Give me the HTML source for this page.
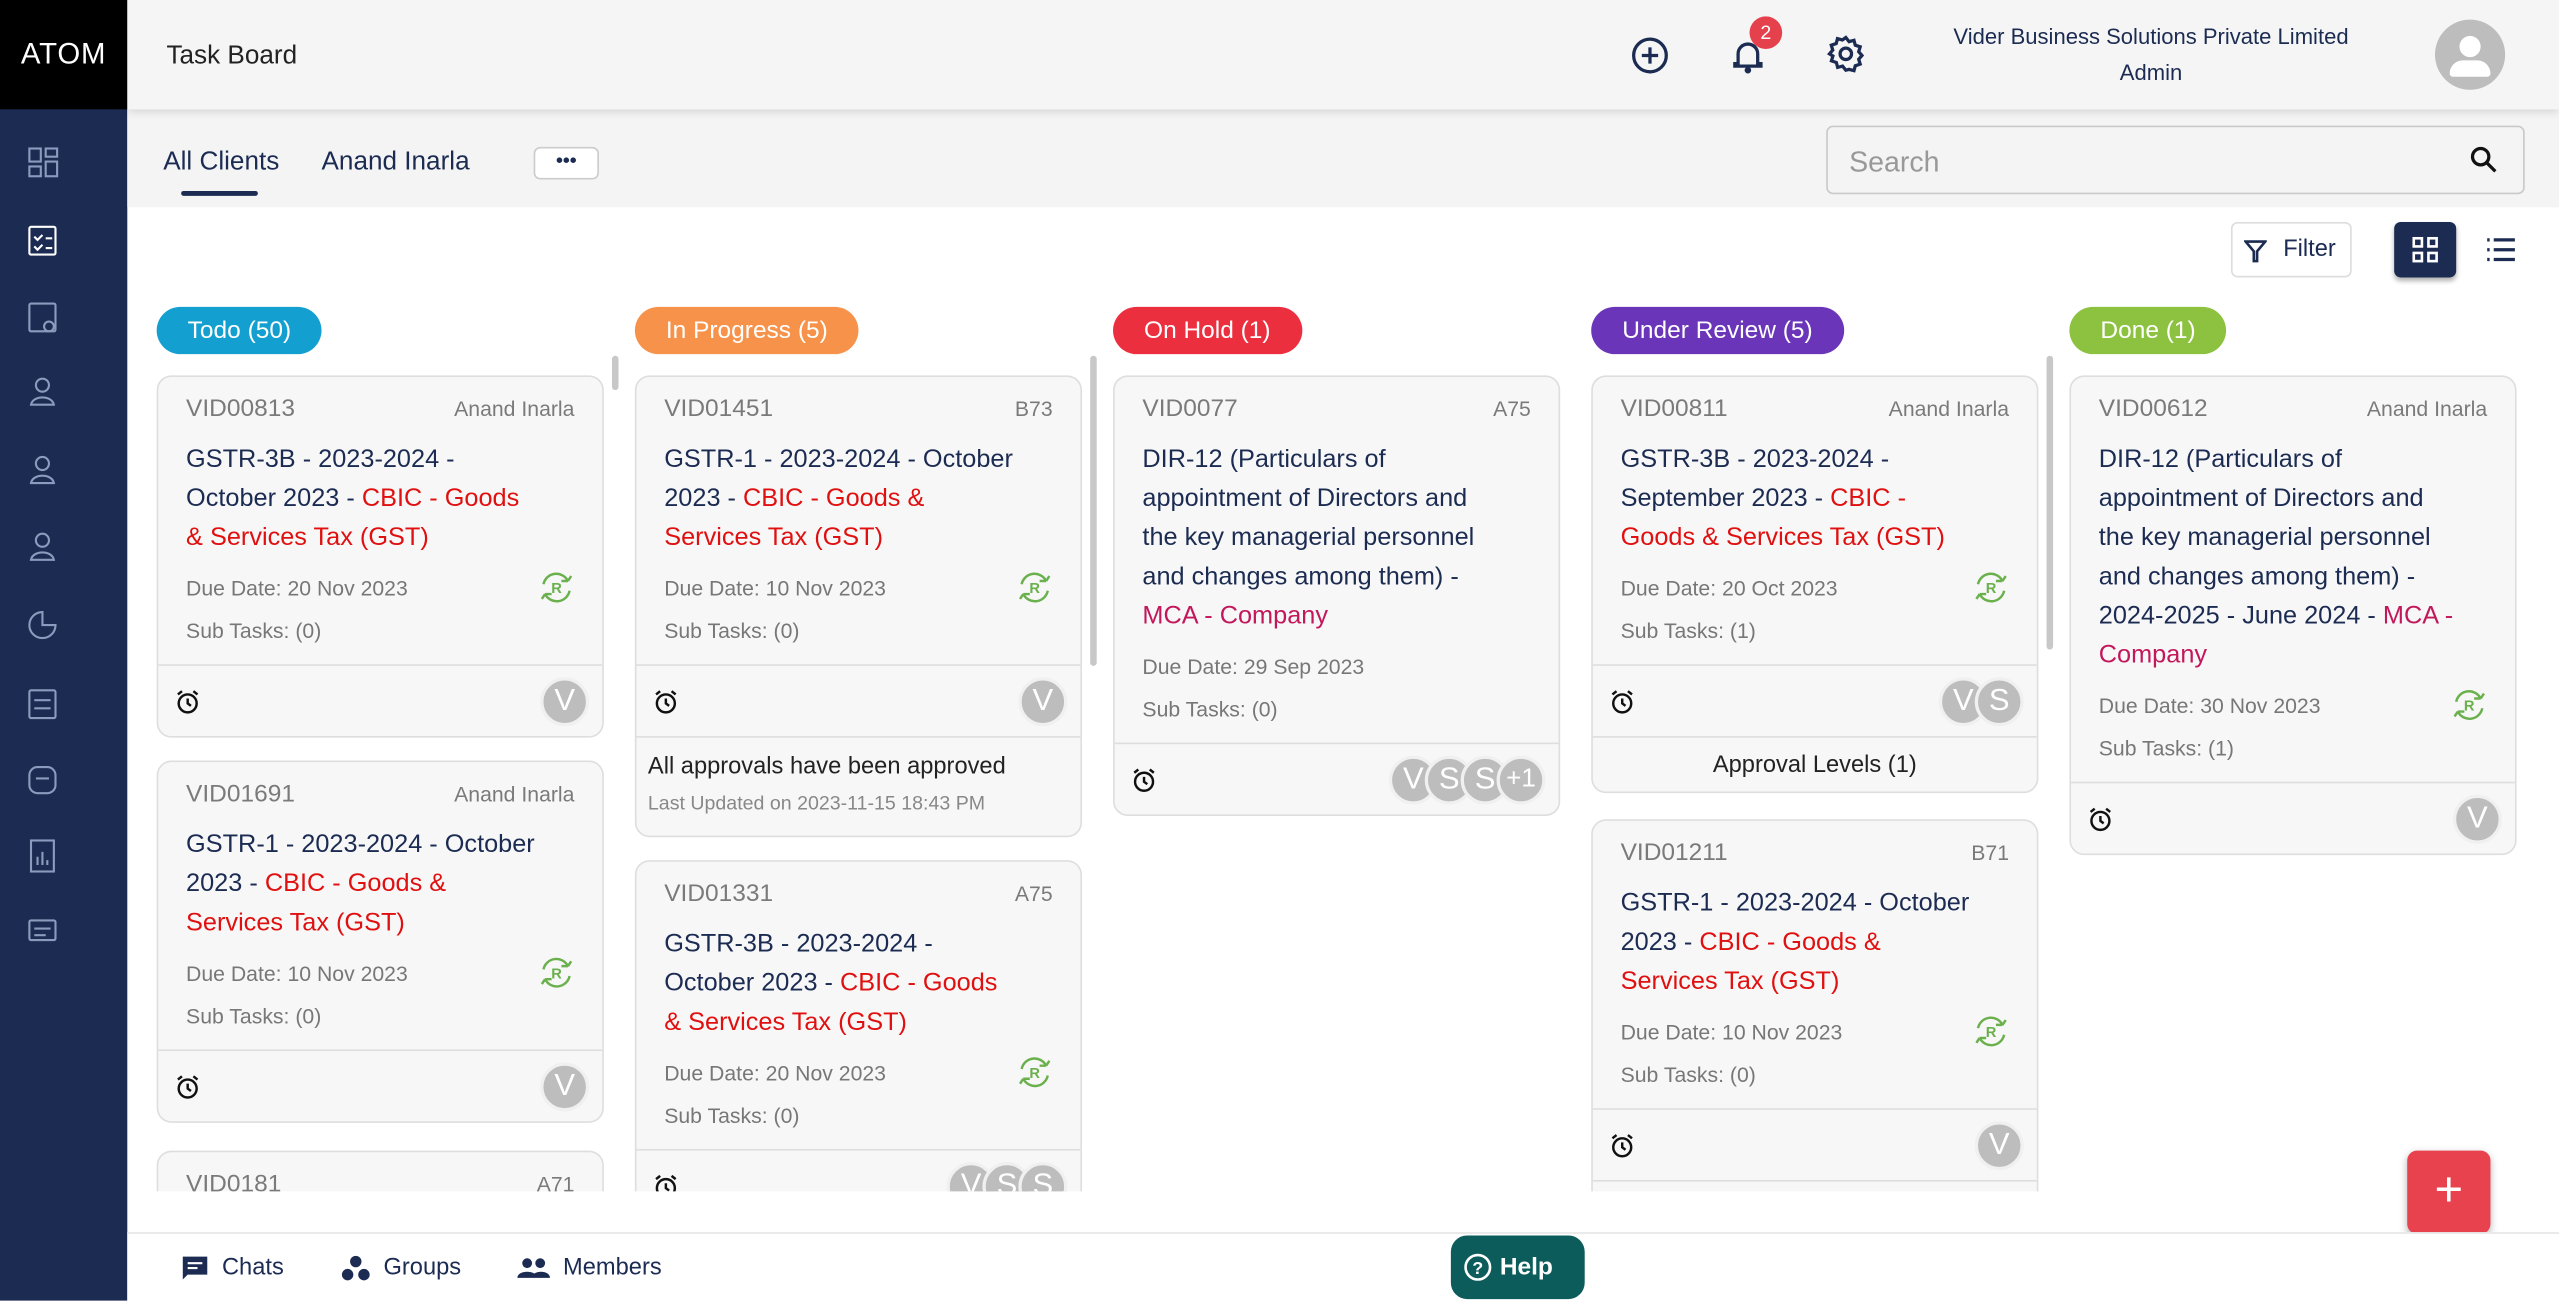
<!DOCTYPE html>
<html><head><meta charset="utf-8">
<style>
*{box-sizing:border-box;margin:0;padding:0}
html,body{width:2559px;height:1300px;overflow:hidden;background:#fff}
body{font-family:"Liberation Sans",sans-serif}
#root{position:absolute;left:0;top:0;width:1568px;height:797px;transform:scale(1.63202);transform-origin:0 0;background:#fff;overflow:hidden}
.abs{position:absolute}
.side{left:0;top:0;width:78px;height:797px;background:#1b2b52}
.logo{left:0;top:0;width:78px;height:67px;background:#000;color:#fff;font-size:18px;line-height:67px;text-align:center;letter-spacing:0.5px}
.hdr{left:78px;top:0;width:1490px;height:67px;background:#f5f5f5;box-shadow:0 2px 5px rgba(0,0,0,.12);z-index:2}
.tabs{left:78px;top:67px;width:1490px;height:60px;background:#f4f4f4}
.pill{height:29px;border-radius:15px;color:#fff;font-size:15px;line-height:29px;padding:0 19px;top:188px;white-space:nowrap}
.card{background:#f7f7f7;border:1px solid #dedede;border-radius:9px;width:274px;overflow:hidden}
.body{padding:11px 17px 7px 17px;position:relative}
.idrow{height:18px;line-height:18px;font-size:15px;color:#7a7a7a;display:flex;justify-content:space-between;margin-bottom:10px}
.idrow span:last-child{font-size:13px}
.title{font-size:15.5px;line-height:24px;color:#1b2b52;white-space:nowrap;margin-bottom:6px}
.red{color:#e01010}.mag{color:#c2185b}
.meta{font-size:13px;line-height:26px;color:#777}
.foot{height:44px;border-top:1px solid #dedede;position:relative}
.alarm{position:absolute;left:10px;top:14px}
.avs{position:absolute;right:8px;top:7px;display:flex}
.av{width:30px;height:30px;border-radius:50%;background:#bdbdbd;border:2px solid #f0f0f0;color:#fff;font-size:19px;line-height:26px;text-align:center;margin-left:-8px}
.rec{position:absolute;right:16px}
.extra{border-top:1px solid #dedede;text-align:center}
.sb{background:#c8c8c8;width:4px;border-radius:2px}
.bot{left:78px;top:755px;width:1490px;height:42px;background:#fff;border-top:1px solid #e6e6e6}
.bl{font-size:14.5px;color:#1b2b52;top:13px;display:flex;align-items:center;gap:8px}
</style></head><body>
<div id="root">
<svg width="0" height="0" style="position:absolute"><defs>
<symbol id="recur" viewBox="0 0 24 24"><path d="M4 10a8 8 0 0 1 15-2" fill="none" stroke="#6ab04c" stroke-width="1.5"/><path d="M19 8l2-3M19 8l-4 0" stroke="#6ab04c" stroke-width="1.5" fill="none"/><path d="M20 14a8 8 0 0 1-15 2" fill="none" stroke="#6ab04c" stroke-width="1.5"/><path d="M5 16l-2 3M5 16l4 0" stroke="#6ab04c" stroke-width="1.5" fill="none"/><text x="12" y="15.5" font-size="9" font-weight="bold" fill="#6ab04c" text-anchor="middle" font-family="Liberation Sans">R</text></symbol>
<symbol id="alarm" viewBox="0 0 16 16"><circle cx="8" cy="9" r="5.5" fill="none" stroke="#111" stroke-width="1.5"/><path d="M8 6v3l2 1.5M2 3.5l2.5-2M14 3.5l-2.5-2" stroke="#111" stroke-width="1.5" fill="none"/></symbol>
</defs></svg>

<div class="abs side"></div>
<div class="abs logo">ATOM</div>
<svg class="abs" style="left:17px;top:90px" width="20" height="500" fill="none" stroke="#8a9bbd" stroke-width="1.3">
<rect x="1" y="1" width="7" height="8"/><rect x="11" y="1" width="7" height="5"/><rect x="1" y="12" width="7" height="6"/><rect x="11" y="9" width="7" height="9"/>
<rect x="1" y="49" width="16" height="17" rx="1" stroke="#fff"/><path d="M4 55l2 2 3-3M4 61l2 2 3-3M11 56h4M11 62h4" stroke="#fff"/>
<rect x="1" y="96" width="16" height="17" rx="1"/><circle cx="13" cy="110" r="3"/>
<circle cx="9" cy="146" r="4"/><path d="M2 158c1-6 13-6 14 0z"/>
<circle cx="9" cy="194" r="4"/><path d="M2 206c1-6 13-6 14 0z"/>
<circle cx="9" cy="241" r="4"/><path d="M2 253c1-6 13-6 14 0z"/>
<path d="M9 285v8h8a8 8 0 1 1-8-8z"/>
<rect x="1" y="333" width="16" height="17" rx="1"/><path d="M4 339h10M4 344h10"/>
<rect x="1" y="380" width="16" height="16" rx="5"/><path d="M5 387h8"/>
<rect x="2" y="425" width="14" height="19"/><path d="M6 440v-5M9 440v-8M12 440v-3"/>
<rect x="1" y="474" width="16" height="12" rx="1"/><path d="M4 479h10M4 483h7"/>
</svg>

<div class="abs hdr">
<div class="abs" style="left:24px;top:26px;font-size:16px;color:#222">Task Board</div>
<svg class="abs" style="left:921px;top:22px" width="24" height="24"><circle cx="12" cy="12" r="10" fill="none" stroke="#1b2b52" stroke-width="2"/><path d="M12 7v10M7 12h10" stroke="#1b2b52" stroke-width="2"/></svg>
<svg class="abs" style="left:981px;top:22px" width="24" height="24"><path d="M6 17V11a6 6 0 0 1 12 0v6h2v1.5H4V17z" fill="none" stroke="#1b2b52" stroke-width="2"/><circle cx="12" cy="21" r="2" fill="#1b2b52"/></svg>
<div class="abs" style="left:994px;top:10px;width:20px;height:20px;border-radius:50%;background:#e5414d;color:#fff;font-size:12px;line-height:20px;text-align:center">2</div>
<svg class="abs" style="left:1041px;top:21px" width="24" height="24" viewBox="0 0 24 24"><path d="M12 2l2 2.5 3-.8.8 3 3 1-.9 3 2 2.3-2 2.3.9 3-3 1-.8 3-3-.8L12 22l-2-2.5-3 .8-.8-3-3-1 .9-3L2 12l2-2.3-.9-3 3-1 .8-3 3 .8z" fill="none" stroke="#1b2b52" stroke-width="2"/><circle cx="12" cy="12" r="3.5" fill="none" stroke="#1b2b52" stroke-width="2"/></svg>
<div class="abs" style="left:1090px;top:12px;width:300px;text-align:center;font-size:13.5px;line-height:22px;color:#1b2b52">Vider Business Solutions Private Limited<br>Admin</div>
<div class="abs" style="left:1414px;top:12px;width:43px;height:43px;border-radius:50%;background:#bdbdbd;overflow:hidden"><div class="abs" style="left:15px;top:10px;width:13px;height:13px;border-radius:50%;background:#fff"></div><div class="abs" style="left:9px;top:25px;width:25px;height:10px;border-radius:8px 8px 2px 2px;background:#fff"></div></div>
</div>

<div class="abs tabs">
<div class="abs" style="left:22px;top:24px;font-size:16px;color:#1b2b52">All Clients</div>
<div class="abs" style="left:33px;top:50px;width:47px;height:3px;border-radius:2px;background:#1b2b52"></div>
<div class="abs" style="left:119px;top:24px;font-size:16px;color:#1b2b52">Anand Inarla</div>
<div class="abs" style="left:249px;top:23px;width:40px;height:20px;border:1px solid #ccc;border-radius:4px;background:#fff;font-size:12px;line-height:14px;text-align:center;color:#1b2b52;font-weight:bold">•••</div>
<div class="abs" style="left:1041px;top:10px;width:428px;height:42px;border:1px solid #c9c9c9;border-radius:4px;background:#f4f4f4"><span class="abs" style="left:13px;top:11px;font-size:17.5px;color:#999">Search</span>
<svg class="abs" style="left:393px;top:11px" width="18" height="18"><circle cx="7" cy="7" r="5" fill="none" stroke="#111" stroke-width="2"/><path d="M11 11l5 5" stroke="#111" stroke-width="2"/></svg></div>
</div>

<div class="abs" style="left:1367px;top:136px;width:74px;height:34px;border:1px solid #ddd;border-radius:4px;background:#fff"><svg class="abs" style="left:7px;top:10px" width="14" height="14"><path d="M1 1h12L8 7v6H6V7z" fill="none" stroke="#1b2b52" stroke-width="1.6"/></svg><span class="abs" style="left:31px;top:8px;font-size:14.5px;color:#1b2b52">Filter</span></div>
<div class="abs" style="left:1467px;top:136px;width:38px;height:34px;border-radius:4px;background:#1b2b52;box-shadow:0 2px 3px rgba(0,0,0,.3)"><svg class="abs" style="left:11px;top:9px" width="16" height="16" fill="none" stroke="#fff" stroke-width="1.6"><rect x="1" y="1" width="5" height="5"/><rect x="10" y="1" width="5" height="5"/><rect x="1" y="10" width="5" height="5"/><rect x="10" y="10" width="5" height="5"/></svg></div>
<svg class="abs" style="left:1523px;top:145px" width="18" height="16" stroke="#1b2b52" stroke-width="2"><path d="M5 2h13M5 8h13M5 14h13M1 2h1.5M1 8h1.5M1 14h1.5"/></svg>

<div class="abs pill" style="left:96px;background:#139fcf">Todo (50)</div>
<div class="abs pill" style="left:389px;background:#f7924a">In Progress (5)</div>
<div class="abs pill" style="left:682px;background:#ec2f3e">On Hold (1)</div>
<div class="abs pill" style="left:975px;background:#6a35b8">Under Review (5)</div>
<div class="abs pill" style="left:1268px;background:#8cc23f">Done (1)</div>

<div class="abs sb" style="left:375px;top:218px;height:21px"></div>
<div class="abs sb" style="left:668px;top:218px;height:190px"></div>
<div class="abs sb" style="left:1254px;top:218px;height:180px"></div>

<div class="abs" style="left:0;top:0;width:1568px;height:730px;overflow:hidden">
<div class="abs card" style="left:96px;top:230px"><div class="body"><div class="idrow"><span>VID00813</span><span>Anand Inarla</span></div><div class="title">GSTR-3B - 2023-2024 -<br>October 2023 - <span class="red">CBIC - Goods</span><br><span class="red">&amp; Services Tax (GST)</span></div><div class="meta">Due Date: 20 Nov 2023</div><div class="meta">Sub Tasks: (0)</div><svg class="rec" style="top:117px" width="24" height="24"><use href="#recur"/></svg></div><div class="foot"><svg class="alarm" width="16" height="16"><use href="#alarm"/></svg><div class="avs"><div class="av">V</div></div></div></div>
<div class="abs card" style="left:96px;top:466px"><div class="body"><div class="idrow"><span>VID01691</span><span>Anand Inarla</span></div><div class="title">GSTR-1 - 2023-2024 - October<br>2023 - <span class="red">CBIC - Goods &amp;</span><br><span class="red">Services Tax (GST)</span></div><div class="meta">Due Date: 10 Nov 2023</div><div class="meta">Sub Tasks: (0)</div><svg class="rec" style="top:117px" width="24" height="24"><use href="#recur"/></svg></div><div class="foot"><svg class="alarm" width="16" height="16"><use href="#alarm"/></svg><div class="avs"><div class="av">V</div></div></div></div>
<div class="abs card" style="left:96px;top:705px"><div class="body"><div class="idrow"><span>VID0181</span><span>A71</span></div></div></div>
<div class="abs card" style="left:389px;top:230px"><div class="body"><div class="idrow"><span>VID01451</span><span>B73</span></div><div class="title">GSTR-1 - 2023-2024 - October<br>2023 - <span class="red">CBIC - Goods &amp;</span><br><span class="red">Services Tax (GST)</span></div><div class="meta">Due Date: 10 Nov 2023</div><div class="meta">Sub Tasks: (0)</div><svg class="rec" style="top:117px" width="24" height="24"><use href="#recur"/></svg></div><div class="foot"><svg class="alarm" width="16" height="16"><use href="#alarm"/></svg><div class="avs"><div class="av">V</div></div></div><div class="extra" style="text-align:left;padding:7px 7px 8px;height:61px"><div style="font-size:14.5px;color:#222;line-height:22px">All approvals have been approved</div><div style="font-size:12px;color:#888;line-height:22px">Last Updated on 2023-11-15 18:43 PM</div></div></div>
<div class="abs card" style="left:389px;top:527px"><div class="body"><div class="idrow"><span>VID01331</span><span>A75</span></div><div class="title">GSTR-3B - 2023-2024 -<br>October 2023 - <span class="red">CBIC - Goods</span><br><span class="red">&amp; Services Tax (GST)</span></div><div class="meta">Due Date: 20 Nov 2023</div><div class="meta">Sub Tasks: (0)</div><svg class="rec" style="top:117px" width="24" height="24"><use href="#recur"/></svg></div><div class="foot"><svg class="alarm" width="16" height="16"><use href="#alarm"/></svg><div class="avs"><div class="av">V</div><div class="av">S</div><div class="av">S</div></div></div></div>
<div class="abs card" style="left:682px;top:230px"><div class="body"><div class="idrow"><span>VID0077</span><span>A75</span></div><div class="title">DIR-12 (Particulars of<br>appointment of Directors and<br>the key managerial personnel<br>and changes among them) -<br><span class="mag">MCA - Company</span></div><div class="meta">Due Date: 29 Sep 2023</div><div class="meta">Sub Tasks: (0)</div></div><div class="foot"><svg class="alarm" width="16" height="16"><use href="#alarm"/></svg><div class="avs"><div class="av">V</div><div class="av">S</div><div class="av">S</div><div class="av" style="font-size:16px">+1</div></div></div></div>
<div class="abs card" style="left:975px;top:230px"><div class="body"><div class="idrow"><span>VID00811</span><span>Anand Inarla</span></div><div class="title">GSTR-3B - 2023-2024 -<br>September 2023 - <span class="red">CBIC -</span><br><span class="red">Goods &amp; Services Tax (GST)</span></div><div class="meta">Due Date: 20 Oct 2023</div><div class="meta">Sub Tasks: (1)</div><svg class="rec" style="top:117px" width="24" height="24"><use href="#recur"/></svg></div><div class="foot"><svg class="alarm" width="16" height="16"><use href="#alarm"/></svg><div class="avs"><div class="av">V</div><div class="av">S</div></div></div><div class="extra" style="height:34px;line-height:34px;font-size:14.5px;color:#222">Approval Levels (1)</div></div>
<div class="abs card" style="left:975px;top:502px"><div class="body"><div class="idrow"><span>VID01211</span><span>B71</span></div><div class="title">GSTR-1 - 2023-2024 - October<br>2023 - <span class="red">CBIC - Goods &amp;</span><br><span class="red">Services Tax (GST)</span></div><div class="meta">Due Date: 10 Nov 2023</div><div class="meta">Sub Tasks: (0)</div><svg class="rec" style="top:117px" width="24" height="24"><use href="#recur"/></svg></div><div class="foot"><svg class="alarm" width="16" height="16"><use href="#alarm"/></svg><div class="avs"><div class="av">V</div></div></div><div class="extra" style="height:34px"></div></div>
<div class="abs card" style="left:1268px;top:230px"><div class="body"><div class="idrow"><span>VID00612</span><span>Anand Inarla</span></div><div class="title">DIR-12 (Particulars of<br>appointment of Directors and<br>the key managerial personnel<br>and changes among them) -<br>2024-2025 - June 2024 - <span class="mag">MCA -</span><br><span class="mag">Company</span></div><div class="meta">Due Date: 30 Nov 2023</div><div class="meta">Sub Tasks: (1)</div><svg class="rec" style="top:189px" width="24" height="24"><use href="#recur"/></svg></div><div class="foot"><svg class="alarm" width="16" height="16"><use href="#alarm"/></svg><div class="avs"><div class="av">V</div></div></div></div>
</div>

<div class="abs" style="left:1475px;top:705px;width:51px;height:51px;border-radius:6px;background:#e8424e;color:#fff;font-size:30px;line-height:49px;text-align:center;box-shadow:0 2px 5px rgba(0,0,0,.3)">+</div>

<div class="abs bot">
<div class="abs bl" style="left:33px"><svg width="17" height="16"><path d="M1 1h15v11H4l-3 3z" fill="#1b2b52"/><path d="M4 5h9M4 8h6" stroke="#fff" stroke-width="1.3"/></svg>Chats</div>
<div class="abs bl" style="left:131px"><svg width="18" height="16" fill="#1b2b52"><circle cx="9" cy="4" r="3.5"/><circle cx="4" cy="12" r="3.5"/><circle cx="14" cy="12" r="3.5"/></svg>Groups</div>
<div class="abs bl" style="left:239px"><svg width="20" height="14" fill="#1b2b52"><circle cx="6" cy="4" r="3"/><circle cx="14" cy="4" r="3"/><path d="M0 13c0-5 12-5 12 0zM9 13c0-5 11-5 11 0z"/></svg>Members</div>
<div class="abs" style="left:811px;top:1px;width:82px;height:39px;border-radius:10px;background:#0c5c5b;color:#fff;font-size:15px;font-weight:bold;line-height:39px;padding-left:30px"><svg class="abs" style="left:8px;top:11px" width="17" height="17"><circle cx="8.5" cy="8.5" r="7.5" fill="none" stroke="#fff" stroke-width="1.6"/><text x="8.5" y="12.5" font-size="11" font-weight="bold" fill="#fff" text-anchor="middle" font-family="Liberation Sans">?</text></svg>Help</div>
</div>
</div>
</body></html>
